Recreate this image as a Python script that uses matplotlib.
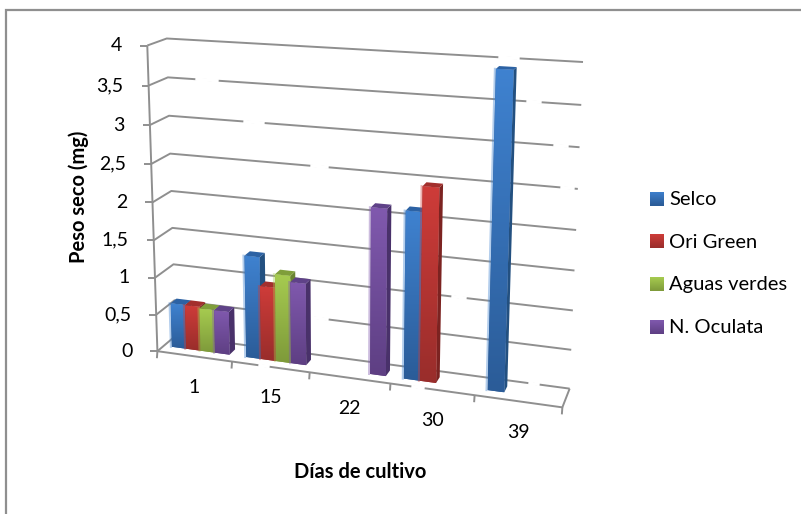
import numpy as np
import matplotlib
matplotlib.use("Agg")
import matplotlib.pyplot as plt
from matplotlib.patches import Polygon

plt.rcParams['font.family'] = ['Lato', 'DejaVu Sans']

dias = ['1', '15', '22', '30', '39']
selco = [0.6, 1.36, None, 2.15, 3.93]
ori_green = [0.6, 0.98, None, 2.47, None]
aguas_verdes = [0.58, 1.16, None, None, None]
n_oculata = [0.58, 1.08, 2.15, None, None]
y_ticks = [0, 0.5, 1, 1.5, 2, 2.5, 3, 3.5, 4]
y_labels = ['0', '0,5', '1', '1,5', '2', '2,5', '3', '3,5', '4']

series = [('Selco', selco, '#3F82D0', '#2B5C98', '#235080', '#2C62A4'),
          ('Ori Green', ori_green, '#CE3C39', '#992D2B', '#7C2321', '#A32F2D'),
          ('Aguas verdes', aguas_verdes, '#A6CB50', '#7E9A3A', '#6B8432', '#7F9E3A'),
          ('N. Oculata', n_oculata, '#8059AE', '#5E3F83', '#49316A', '#5F4288')]

# (category, depth, value) -> pixel, fitted on the corners of the drawn box
known = [((0, 0, 0), (158, 352)), ((5, 0, 0), (562, 407)), ((0, 1, 0), (175, 335)),
         ((5, 1, 0), (570, 389)), ((0, 1, 4), (167, 39)), ((5, 1, 4), (583, 62)),
         ((0, 0, 4), (147, 45))]
A, b = [], []
for (x, d, v), (u, w) in known:
    A.append([x, d, v, 1, 0, 0, 0, 0, -u*x, -u*d, -u*v])
    b.append(u)
    A.append([0, 0, 0, 0, x, d, v, 1, -w*x, -w*d, -w*v])
    b.append(w)
P = np.append(np.linalg.lstsq(np.array(A, float), np.array(b, float), rcond=None)[0], 1).reshape(3, 4)


def proj(x, d, v):
    p = P @ np.array([x, d, v, 1.0])
    return p[0]/p[2], p[1]/p[2]


fig = plt.figure(figsize=(8.01, 5.14), dpi=100)
ax = fig.add_axes([0, 0, 1, 1])
ax.set_xlim(0, 801)
ax.set_ylim(514, 0)
ax.axis('off')

# only the top and left of the chart frame are inside the crop
ax.plot([5.5, 5.5, 801], [514, 9.5, 9.5], color='#8f8f8f', lw=1.6, solid_joinstyle='miter')

GRID = '#8f8f8f'
# pale breaks in the gridlines of the source image, in pixel x
gaps = {4: [(500, 518)], 3.5: [(197, 217), (528, 540)], 3: [(245, 263), (555, 567)],
        2.5: [(312, 327), (562, 573)], 1: [(453, 465)], 0.5: [(308, 327)], 0: [(530, 538)]}
front_gaps = [(260, 268), (413, 423)]


def grid_line(pts, **kw):
    ax.plot([p[0] for p in pts], [p[1] for p in pts], color=GRID, lw=1.4,
            solid_capstyle='butt', **kw)


def cut(p0, p1, spans):
    for g0, g1 in spans:
        s = np.array([g0, g1])
        yy = np.interp(s, [p0[0], p1[0]], [p0[1], p1[1]])
        ax.plot(s, yy, color='white', lw=2.4, zorder=1.5)


for t, lab in zip(y_ticks, y_labels):
    grid_line([proj(0, 0, t), proj(0, 1, t), proj(5, 1, t)], zorder=1)
    cut(proj(0, 1, t), proj(5, 1, t), gaps.get(t, []))
    fx, fy = proj(0, 0, t)
    grid_line([(fx - 7, fy), (fx, fy)], zorder=1)
    ax.text(fx - 25, fy, lab, ha='right', va='center', fontsize=14, color='black')

grid_line([proj(0, 0, 0), proj(0, 0, 4)], zorder=1)
grid_line([proj(0, 0, 0), proj(5, 0, 0), proj(5, 1, 0)], zorder=1)
cut(proj(0, 0, 0), proj(5, 0, 0), front_gaps)
for i in range(6):
    x0, y0 = proj(i, 0, 0)
    grid_line([(x0, y0), (x0 - 0.5, y0 + 7)], zorder=1)
for i, lab in enumerate(dias):
    x0, y0 = proj(i + 0.5, 0, 0)
    ax.text(x0, y0 + 31, lab, ha='center', va='center', fontsize=14, color='black')

D0, D1 = 0.35, 0.68
BW, START = 0.195, 0.11
grad = np.linspace(0, 1, 64).reshape(-1, 1)
order = 10


def face(pts, c0, c1, z):
    poly = Polygon(pts, closed=True, fc=c1, ec='none', zorder=z)
    ax.add_patch(poly)
    if c0 != c1:
        xs, ys = zip(*pts)
        rgb0, rgb1 = np.array(matplotlib.colors.to_rgb(c0)), np.array(matplotlib.colors.to_rgb(c1))
        img = (rgb0 + (rgb1 - rgb0)*grad[..., None]).reshape(64, 1, 3)
        im = ax.imshow(img, extent=(min(xs), max(xs), max(ys), min(ys)), aspect='auto',
                       zorder=z, interpolation='bilinear')
        im.set_clip_path(poly)


for i in range(5):
    for j, (name, vals, c_top, c_bot, c_side, c_roof) in enumerate(series):
        v = vals[i]
        if v is None:
            continue
        x0 = i + START + j*BW
        x1 = x0 + BW
        z = order + j*0.1 + i
        # pale fringe along the left edge, as in the source image
        p0, p1 = proj(x0, D0, 0), proj(x0, D0, v)
        ax.plot([p0[0] - 1, p1[0] - 1], [p0[1], p1[1]], color=c_top, alpha=0.4, lw=1.5, zorder=z - 0.05)
        face([proj(x1, D0, 0), proj(x1, D1, 0), proj(x1, D1, v), proj(x1, D0, v)],
             c_side, c_side, z)
        face([proj(x0, D0, v), proj(x1, D0, v), proj(x1, D1, v), proj(x0, D1, v)],
             c_roof, c_roof, z)
        face([proj(x0, D0, 0), proj(x1, D0, 0), proj(x1, D0, v), proj(x0, D0, v)],
             c_top, c_bot, z + 0.01)

ax.text(79, 197, 'Peso seco (mg)', rotation=90, ha='center', va='center',
        fontsize=14.5, fontweight='bold', color='black')
ax.text(360, 472, 'Días de cultivo', ha='center', va='center',
        fontsize=14.5, fontweight='bold', color='black')

# legend
for k, (name, vals, c_top, c_bot, c_side, c_roof) in enumerate(series):
    yc = 198.5 + k*42.7
    face([(650, yc - 7), (664, yc - 7), (664, yc + 7), (650, yc + 7)], c_top, c_bot, 20)
    ax.text(669, yc + 1, name, ha='left', va='center', fontsize=14.5, color='black', zorder=20)

ax.set_xlim(0, 801)
ax.set_ylim(514, 0)
fig.savefig('out.png', dpi=100)
